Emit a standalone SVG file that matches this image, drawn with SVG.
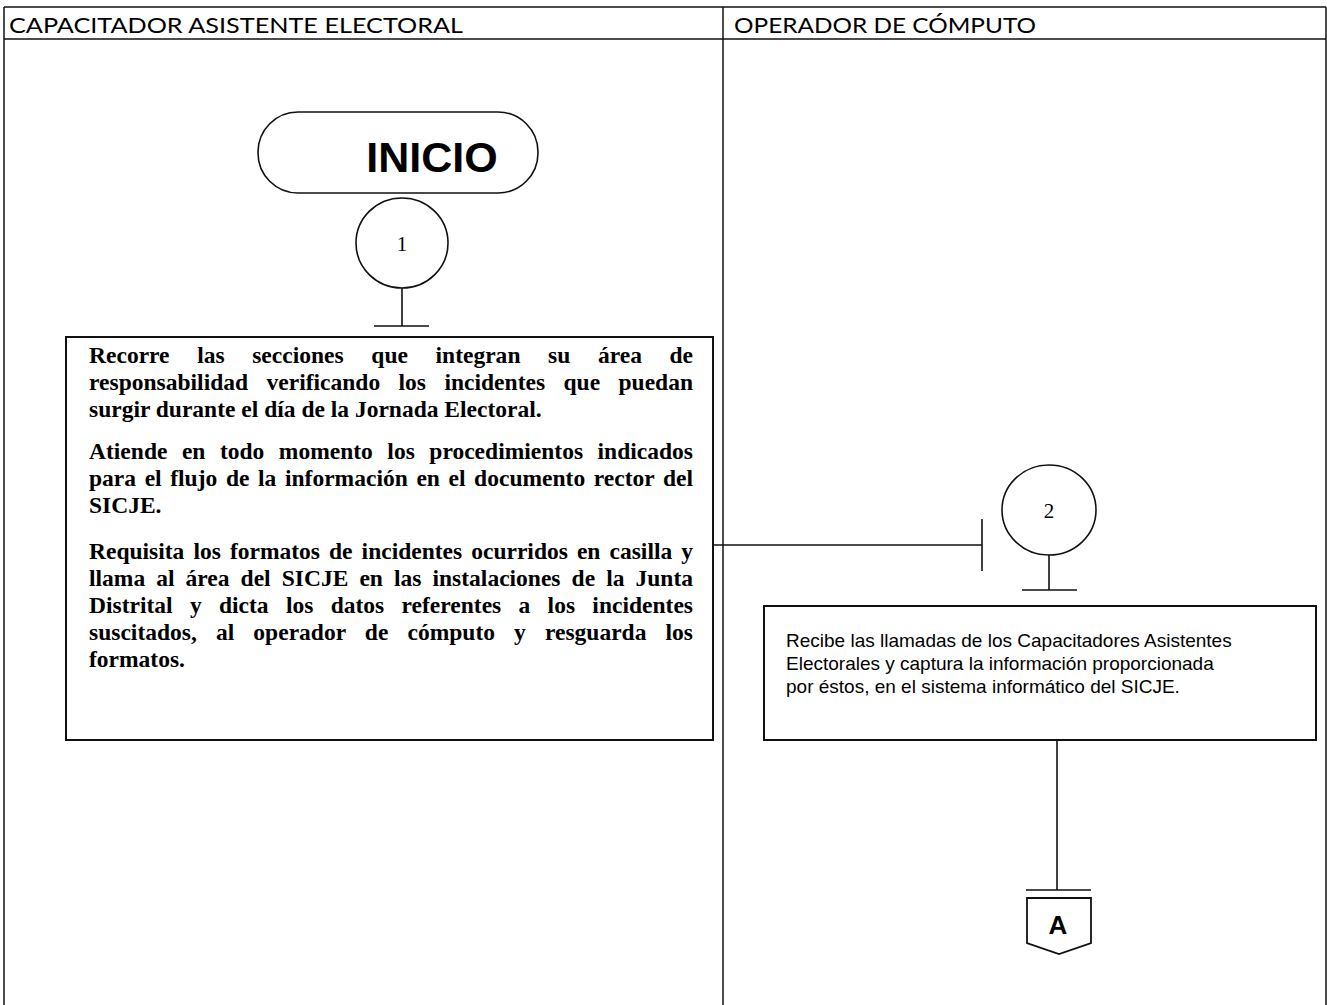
<svg xmlns="http://www.w3.org/2000/svg" width="1327" height="1005" viewBox="0 0 1327 1005">
<style>
.frame{stroke:#111;stroke-width:1.5;fill:none}
.ln{stroke:#111;stroke-width:1.6;fill:none}
.box{stroke:#111;stroke-width:2;fill:#fff}
.hdr{font-family:Lato,"Open Sans","Liberation Sans",sans-serif;font-size:22px;fill:#000}
.tb{font-family:"Liberation Serif","Times New Roman",serif;font-weight:bold;font-size:23.5px;fill:#000}
.ta{font-family:"Liberation Sans",Arial,sans-serif;font-size:19px;fill:#000}
.num{font-family:"Liberation Serif","Times New Roman",serif;font-size:21px;fill:#000;text-anchor:middle}
</style>
<rect width="1327" height="1005" fill="#fff"/>
<g id="lanes">
<line class="frame" x1="4" y1="7" x2="1326" y2="7"/>
<line class="frame" x1="4" y1="39" x2="1326" y2="39"/>
<line class="frame" x1="4" y1="7" x2="4" y2="1005"/>
<line class="frame" x1="723" y1="7" x2="723" y2="1005"/>
<line class="frame" x1="1326" y1="7" x2="1326" y2="1005"/>
<text class="hdr" x="9" y="33" textLength="454" lengthAdjust="spacingAndGlyphs">CAPACITADOR ASISTENTE ELECTORAL</text>
<text class="hdr" x="734" y="33" textLength="302" lengthAdjust="spacingAndGlyphs">OPERADOR DE CÓMPUTO</text>
</g>
<g id="connectors">
<line class="ln" x1="402" y1="288" x2="402" y2="326"/>
<line class="ln" x1="374" y1="326" x2="429" y2="326"/>
<line class="ln" x1="713" y1="545" x2="982" y2="545"/>
<line class="ln" x1="982" y1="519" x2="982" y2="571"/>
<line class="ln" x1="1049" y1="555" x2="1049" y2="590"/>
<line class="ln" x1="1022" y1="590" x2="1077" y2="590"/>
<line class="ln" x1="1057" y1="740" x2="1057" y2="890"/>
<line class="ln" x1="1026" y1="890" x2="1091" y2="890"/>
</g>
<g id="inicio">
<rect class="box" x="258" y="112" width="280" height="81" rx="40" ry="40" style="stroke-width:1.6"/>
<text x="432" y="172" text-anchor="middle" font-family="Liberation Sans,Arial,sans-serif" font-weight="bold" font-size="43">INICIO</text>
</g>
<g id="c1">
<ellipse class="box" cx="402" cy="243" rx="46" ry="45" style="stroke-width:1.6"/>
<text class="num" x="402" y="251">1</text>
</g>
<g id="box1">
<rect class="box" x="66" y="337" width="647" height="403"/>
<text class="tb" x="89" y="363" word-spacing="21.7" textLength="604" lengthAdjust="spacing">Recorre las secciones que integran su área de</text>
<text class="tb" x="89" y="390" word-spacing="12.5" textLength="604" lengthAdjust="spacing">responsabilidad verificando los incidentes que puedan</text>
<text class="tb" x="89" y="417">surgir durante el día de la Jornada Electoral.</text>
<text class="tb" x="89" y="459" word-spacing="8.6" textLength="604" lengthAdjust="spacing">Atiende en todo momento los procedimientos indicados</text>
<text class="tb" x="89" y="486" word-spacing="2.7" textLength="604" lengthAdjust="spacing">para el flujo de la información en el documento rector del</text>
<text class="tb" x="89" y="513">SICJE.</text>
<text class="tb" x="89" y="559" word-spacing="3.2" textLength="604" lengthAdjust="spacing">Requisita los formatos de incidentes ocurridos en casilla y</text>
<text class="tb" x="89" y="586" word-spacing="5.2" textLength="604" lengthAdjust="spacing">llama al área del SICJE en las instalaciones de la Junta</text>
<text class="tb" x="89" y="613" word-spacing="11.4" textLength="604" lengthAdjust="spacing">Distrital y dicta los datos referentes a los incidentes</text>
<text class="tb" x="89" y="640" word-spacing="13.2" textLength="604" lengthAdjust="spacing">suscitados, al operador de cómputo y resguarda los</text>
<text class="tb" x="89" y="667">formatos.</text>
</g>
<g id="c2">
<ellipse class="box" cx="1049" cy="510" rx="47" ry="45" style="stroke-width:1.6"/>
<text class="num" x="1049" y="518">2</text>
</g>
<g id="box2">
<rect class="box" x="764" y="606" width="552" height="134"/>
<text class="ta" x="786" y="647">Recibe las llamadas de los Capacitadores Asistentes</text>
<text class="ta" x="786" y="670">Electorales y captura la información proporcionada</text>
<text class="ta" x="786" y="693">por éstos, en el sistema informático del SICJE.</text>
</g>
<g id="connA">
<path class="box" d="M1027,898 L1091,898 L1091,943 L1059,954 L1027,943 Z" style="stroke-width:1.8"/>
<text x="1058" y="934" text-anchor="middle" font-family="Liberation Sans,Arial,sans-serif" font-weight="bold" font-size="26">A</text>
</g>
</svg>
